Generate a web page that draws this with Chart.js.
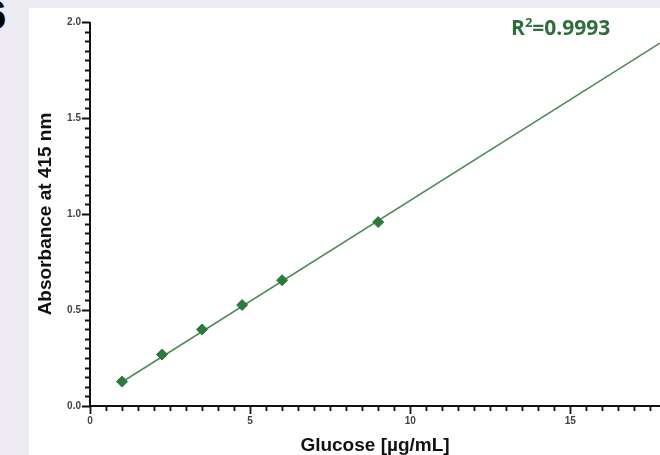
<!DOCTYPE html>
<html>
<head>
<meta charset="utf-8">
<script src="https://cdn.jsdelivr.net/npm/chart.js@4/dist/chart.umd.min.js"></script>
<style>
  html, body { margin: 0; padding: 0; }
  body { width: 660px; height: 455px; background: #efebf2; position: relative; overflow: hidden; }
  #panel { position: absolute; left: 29px; top: 8px; width: 631px; height: 447px; background: #fff; }
  #tag { position: absolute; left: -16px; top: -5px; font: bold 40px 'Liberation Sans', Arial, sans-serif; line-height: 40px; color: #000; }
  #r2 { position: absolute; left: 511px; top: 17px; font: bold 21px 'Open Sans', sans-serif; line-height: 21px; color: #2f6e3b; white-space: nowrap; }
  #r2 span { font-size: 13px; position: relative; top: -8px; }
</style>
</head>
<body>
<div id="tag">6</div>
<div id="panel"><canvas id="myChart" width="631" height="447"></canvas></div>
<div id="r2">R<span>2</span>=0.9993</div>
<script>
// datos
const glucose = [1, 2.25, 3.5, 4.75, 6, 9];
const absorbance = [0.127, 0.268, 0.399, 0.526, 0.655, 0.958];
const fitX = [1, 17.8];
const fitY = [0.125, 1.89];
const xTickLabels = [0, 5, 10, 15];
const yTickLabels = [0, 0.5, 1, 1.5, 2];

const green = '#2e7a3c';
const tickFont = { family: "'Liberation Sans', Arial, sans-serif", size: 10, weight: 'bold' };
const titleFont = { family: "'Liberation Sans', Arial, sans-serif", size: 19, weight: 'bold', lineHeight: 1 };

function isMajor(list, v) {
  return list.some(m => Math.abs(m - v) < 1e-6);
}

// ticks mayores y menores dibujados a mano sobre las escalas
const axisTicks = {
  id: 'axisTicks',
  afterDraw(chart) {
    const { ctx, chartArea: a, scales: { x, y } } = chart;
    ctx.save();
    ctx.strokeStyle = '#111';
    ctx.lineWidth = 2;
    ctx.beginPath();
    ctx.moveTo(a.left, a.top);
    ctx.lineTo(a.left, a.bottom);
    ctx.lineTo(a.right, a.bottom);
    ctx.stroke();
    ctx.lineWidth = 1.8;
    ctx.beginPath();
    x.ticks.forEach(t => {
      const px = Math.round(x.getPixelForValue(t.value)) + 0.5;
      const len = isMajor(xTickLabels, t.value) ? 8 : 5;
      ctx.moveTo(px, a.bottom);
      ctx.lineTo(px, a.bottom + len);
    });
    y.ticks.forEach(t => {
      const py = Math.round(y.getPixelForValue(t.value)) + 0.5;
      const len = isMajor(yTickLabels, t.value) ? 8 : 5;
      ctx.moveTo(a.left, py);
      ctx.lineTo(a.left - len, py);
    });
    ctx.stroke();
    ctx.restore();
  }
};

const ctx = document.getElementById('myChart').getContext('2d');
const myChart = new Chart(ctx, {
  type: 'scatter',
  data: {
    datasets: [
      {
        label: 'Glucose',
        data: glucose.map((g, i) => ({ x: g, y: absorbance[i] })),
        pointStyle: 'rectRot',
        pointRadius: 5.5,
        backgroundColor: green,
        borderColor: green,
        borderWidth: 1,
        order: 0
      },
      {
        label: 'Fit',
        type: 'line',
        data: fitX.map((g, i) => ({ x: g, y: fitY[i] })),
        borderColor: '#4f8a59',
        borderWidth: 1.6,
        pointRadius: 0,
        fill: false,
        order: 1
      }
    ]
  },
  options: {
    responsive: false,
    animation: false,
    layout: { autoPadding: false, padding: { top: 14, left: 0, right: 0, bottom: 0 } },
    plugins: {
      legend: { display: false },
      tooltip: { enabled: false }
    },
    scales: {
      x: {
        type: 'linear',
        min: 0,
        max: 17.8,
        afterFit: s => { s.height = 49; s.paddingLeft = 0; s.paddingRight = 0; },
        grid: { display: false, drawTicks: false },
        border: { display: false },
        ticks: {
          stepSize: 0.5,
          includeBounds: false,
          autoSkip: false,
          maxRotation: 0,
          padding: 9,
          color: '#444',
          font: tickFont,
          callback: v => isMajor(xTickLabels, v) ? String(Math.round(v)) : ''
        },
        title: {
          display: true,
          text: 'Glucose [µg/mL]',
          color: '#111',
          font: titleFont,
          padding: { top: 0, bottom: 0 }
        }
      },
      y: {
        min: 0,
        max: 2,
        afterFit: s => { s.width = 61; s.paddingTop = 0; s.paddingBottom = 0; },
        grid: { display: false, drawTicks: false },
        border: { display: false },
        ticks: {
          stepSize: 0.05,
          autoSkip: false,
          padding: 9,
          color: '#444',
          font: tickFont,
          callback: v => isMajor(yTickLabels, v) ? v.toFixed(1) : ''
        },
        title: {
          display: true,
          text: 'Absorbance at 415 nm',
          color: '#111',
          font: titleFont,
          padding: { top: 7, bottom: 0 }
        }
      }
    }
  },
  plugins: [axisTicks]
});
</script>
</body>
</html>
